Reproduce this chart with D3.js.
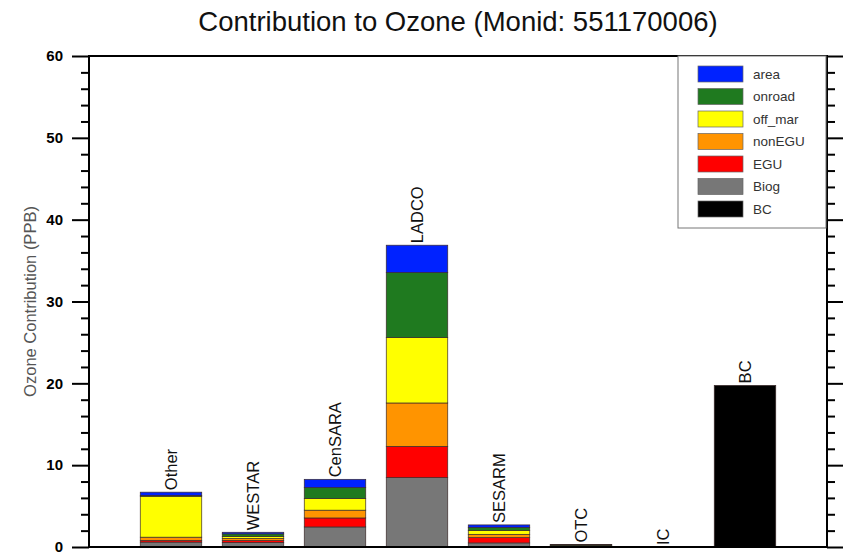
<!DOCTYPE html>
<html>
<head>
<meta charset="utf-8">
<script src="https://cdn.jsdelivr.net/npm/d3@7"></script>
<style>
  body { margin: 0; background: #fff; }
  text { font-family: "Liberation Sans", Arial, Helvetica, sans-serif; }
</style>
</head>
<body>
<div id="chart"></div>
<script>
// Data
var regions = ["Other", "WESTAR", "CenSARA", "LADCO", "SESARM", "OTC", "IC", "BC"];
var sectors = ["BC", "Biog", "EGU", "nonEGU", "off_mar", "onroad", "area"];
var colors  = ["#000000", "#777777", "#ff0000", "#ff9400", "#ffff00", "#1f7a1f", "#0022ff"];

var bcVals     = [0, 0, 0, 0, 0, 0, 0, 19.75];
var biogVals   = [0.6, 0.55, 2.45, 8.48, 0.5, 0.05, 0, 0];
var eguVals    = [0.2, 0.25, 1.1, 3.82, 0.65, 0.05, 0, 0];
var nonEguVals = [0.4, 0.25, 0.95, 5.3, 0.4, 0.03, 0, 0];
var offMarVals = [5.0, 0.25, 1.43, 8.0, 0.45, 0.05, 0, 0];
var onroadVals = [0.1, 0.3, 1.34, 7.94, 0.4, 0.1, 0, 0];
var areaVals   = [0.4, 0.2, 1.0, 3.34, 0.3, 0.02, 0, 0];

var yTicks = [0, 10, 20, 30, 40, 50, 60];

// Layout
var width = 849, height = 555;
var margin = { top: 56, right: 22, bottom: 8, left: 89 };
var plotW = width - margin.left - margin.right;
var plotH = height - margin.top - margin.bottom;

var svg = d3.select("#chart").append("svg")
    .attr("width", width)
    .attr("height", height);

var g = svg.append("g")
    .attr("transform", "translate(" + margin.left + "," + margin.top + ")");

// Build table for the stack
var series = [bcVals, biogVals, eguVals, nonEguVals, offMarVals, onroadVals, areaVals];
var table = regions.map(function (r, i) {
    var row = { region: r, pos: i + 1 };
    sectors.forEach(function (s, k) { row[s] = series[k][i]; });
    return row;
});
var stacked = d3.stack().keys(sectors)(table);

// Scales
var xScale = d3.scaleLinear().domain([0, 9]).range([0, plotW]);
var yScale = d3.scaleLinear().domain([0, 60]).range([plotH, 0]);
var barW = xScale(0.75) - xScale(0);

// Bars
g.selectAll(".layer")
    .data(stacked)
    .enter().append("g")
      .attr("class", "layer")
      .attr("fill", function (d, k) { return colors[k]; })
    .selectAll("rect")
    .data(function (d) { return d; })
    .enter().append("rect")
      .filter(function (d) { return d[1] - d[0] > 0; })
      .attr("x", function (d) { return xScale(d.data.pos) - barW / 2; })
      .attr("y", function (d) { return yScale(d[1]); })
      .attr("width", barW)
      .attr("height", function (d) { return yScale(d[0]) - yScale(d[1]); })
      .attr("stroke", "#3b2b2b")
      .attr("stroke-width", 0.7);

// Bar labels
var totals = table.map(function (row) {
    return d3.sum(sectors, function (s) { return row[s]; });
});
g.selectAll(".barlabel")
    .data(table)
    .enter().append("text")
      .attr("class", "barlabel")
      .attr("transform", function (d, i) {
          return "translate(" + xScale(d.pos) + "," + (yScale(totals[i]) - 2) + ") rotate(-90)";
      })
      .attr("dy", "0.35em")
      .attr("font-size", 16.5)
      .attr("fill", "#111")
      .text(function (d) { return d.region; });

// Frame
g.append("rect")
    .attr("x", 0).attr("y", 0)
    .attr("width", plotW).attr("height", plotH)
    .attr("fill", "none")
    .attr("stroke", "#000")
    .attr("stroke-width", 2);

// Y axes (outward ticks)
var minorTicks = d3.range(0, 61, 2).filter(function (v) { return v % 10 !== 0; });

var yAxisL = d3.axisLeft(yScale).tickValues(yTicks).tickSize(17).tickPadding(9).tickFormat(d3.format("d"));
var left = g.append("g").attr("id", "y-axis").call(yAxisL);
left.select(".domain").remove();
left.selectAll("line").attr("stroke", "#000").attr("stroke-width", 2);
left.selectAll("text")
    .attr("font-size", 15)
    .attr("font-weight", "bold")
    .attr("fill", "#000");

var leftMinor = g.append("g").call(d3.axisLeft(yScale).tickValues(minorTicks).tickSize(8).tickFormat(""));
leftMinor.select(".domain").remove();
leftMinor.selectAll("line").attr("stroke", "#000").attr("stroke-width", 2);

var right = g.append("g")
    .attr("transform", "translate(" + plotW + ",0)")
    .call(d3.axisRight(yScale).tickValues(yTicks).tickSize(16).tickFormat(""));
right.select(".domain").remove();
right.selectAll("line").attr("stroke", "#000").attr("stroke-width", 2);

var rightMinor = g.append("g")
    .attr("transform", "translate(" + plotW + ",0)")
    .call(d3.axisRight(yScale).tickValues(minorTicks).tickSize(8).tickFormat(""));
rightMinor.select(".domain").remove();
rightMinor.selectAll("line").attr("stroke", "#000").attr("stroke-width", 2);

// Y axis title
svg.append("text")
    .attr("transform", "translate(30," + (margin.top + plotH / 2) + ") rotate(-90)")
    .attr("text-anchor", "middle")
    .attr("dy", "0.35em")
    .attr("font-size", 16.5)
    .attr("fill", "#555")
    .text("Ozone Contribution (PPB)");

// Title
svg.append("text")
    .attr("x", margin.left + plotW / 2)
    .attr("y", 31)
    .attr("text-anchor", "middle")
    .attr("font-size", 27.5)
    .attr("fill", "#111")
    .text("Contribution to Ozone (Monid: 551170006)");

// Legend
var legendItems = sectors.slice().reverse();
var legendColors = colors.slice().reverse();
var legend = svg.append("g").attr("transform", "translate(678,56)");
legend.append("rect")
    .attr("x", 0).attr("y", 0)
    .attr("width", 148).attr("height", 172)
    .attr("fill", "#fff")
    .attr("stroke", "#777")
    .attr("stroke-width", 1);
var item = legend.selectAll(".item")
    .data(legendItems)
    .enter().append("g")
      .attr("class", "item")
      .attr("transform", function (d, i) { return "translate(20," + (10 + i * 22.5) + ")"; });
item.append("rect")
    .attr("width", 45).attr("height", 16)
    .attr("fill", function (d, i) { return legendColors[i]; })
    .attr("stroke", "#666")
    .attr("stroke-width", 0.7);
item.append("text")
    .attr("x", 55).attr("y", 8)
    .attr("dy", "0.35em")
    .attr("font-size", 13.5)
    .attr("fill", "#333")
    .text(function (d) { return d; });
</script>
</body>
</html>
